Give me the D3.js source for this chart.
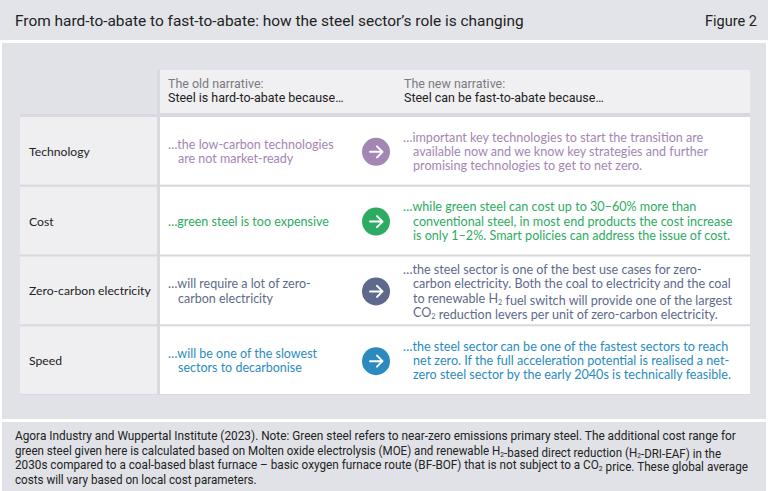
<!DOCTYPE html>
<html lang="en">
<head>
    <meta charset="UTF-8">
    <script src="https://cdn.jsdelivr.net/npm/d3@7"></script>
    <title>Steel sector narrative</title>
    <style>
        body { margin: 0; background: #fff; }
    </style>
</head>
<body>
</body>
<script>

    let title = "From hard-to-abate to fast-to-abate: how the steel sector\u2019s role is changing",
        figLabel = "Figure 2"

    let headOld = ["The old narrative:", "Steel is hard-to-abate because\u2026"],
        headNew = ["The new narrative:", "Steel can be fast-to-abate because\u2026"]

    let categories = ["Technology", "Cost", "Zero-carbon electricity", "Speed"]

    let oldText = [
        ["\u2026the low-carbon technologies", "are not market-ready"],
        ["\u2026green steel is too expensive"],
        ["\u2026will require a lot of zero-", "carbon electricity"],
        ["\u2026will be one of the slowest", "sectors to decarbonise"]
    ]

    let newText = [
        ["\u2026important key technologies to start the transition are",
            "available now and we know key strategies and further",
            "promising technologies to get to net zero."],
        ["\u2026while green steel can cost up to 30\u201360% more than",
            "conventional steel, in most end products the cost increase",
            "is only 1\u20132%. Smart policies can address the issue of cost."],
        ["\u2026the steel sector is one of the best use cases for zero-",
            "carbon electricity. Both the coal to electricity and the coal",
            "to renewable H\u2082 fuel switch will provide one of the largest",
            "CO\u2082 reduction levers per unit of zero-carbon electricity."],
        ["\u2026the steel sector can be one of the fastest sectors to reach",
            "net zero. If the full acceleration potential is realised a net-",
            "zero steel sector by the early 2040s is technically feasible."]
    ]

    let rowColors = ["#a386b4", "#2eab63", "#5e6a8b", "#2b8bc0"]

    let footnote = [
        "Agora Industry and Wuppertal Institute (2023). Note: Green steel refers to near-zero emissions primary steel. The additional cost range for",
        "green steel given here is calculated based on Molten oxide electrolysis (MOE) and renewable H\u2082-based direct reduction (H\u2082-DRI-EAF) in the",
        "2030s compared to a coal-based blast furnace \u2013 basic oxygen furnace route (BF-BOF) that is not subject to a CO\u2082 price. These global average",
        "costs will vary based on local cost parameters."
    ]

    // widths the condensed footnote lines take up in the original
    let footWidths = [722, 707, 734, 242]

    let width = 768,
        height = 491,
        tableLeft = 20,
        labelRight = 157,
        cellLeft = 160,
        tableRight = 750,
        headTop = 70,
        rowsTop = 117,
        rowsBottom = 394

    let condensed = "Roboto, 'Liberation Sans', sans-serif",
        body = "Lato, 'Open Sans', sans-serif"

    let y = d3.scaleBand()
        .domain(categories)
        .range([rowsTop, rowsBottom])
        .paddingInner(0.03)

    let svg = d3.select("body")
        .append("svg")
        .attr("width", width)
        .attr("height", height)

    // panels
    svg.append("rect").attr("x", 0).attr("y", 0).attr("width", width).attr("height", 40).attr("fill", "#e3e4e9")
    svg.append("rect").attr("x", 2).attr("y", 43).attr("width", width - 4).attr("height", 376).attr("fill", "#e1e2e7")
    svg.append("rect").attr("x", 2).attr("y", 422).attr("width", width - 4).attr("height", height - 422).attr("fill", "#e1e2e7")

    // write text with ₂ as a real subscript
    function writeLine(sel, str, size) {
        str.split(/(\u2082)/).forEach(function (part) {
            if (part === "\u2082") {
                sel.append("tspan").attr("dy", size * 0.16).attr("font-size", size * 0.58).text("2")
                sel.append("tspan").attr("dy", -size * 0.16).text("")
            } else if (part.length) {
                sel.append("tspan").text(part)
            }
        })
    }

    // squeeze one text horizontally about its anchor so it hits a target width
    function squeeze(t, target, k) {
        let x0 = +t.attr("x")
        if (k === undefined) k = target / t.node().getComputedTextLength()
        t.attr("transform", "translate(" + x0 + ",0) scale(" + k + ",1) translate(" + (-x0) + ",0)")
        return k
    }

    // title
    let tt = svg.append("text")
        .attr("x", 15).attr("y", 26)
        .attr("font-family", condensed).attr("font-size", 14.5).attr("fill", "#222")
        .text(title)
    squeeze(tt, 509)

    let ft = svg.append("text")
        .attr("x", 757).attr("y", 26).attr("text-anchor", "end")
        .attr("font-family", condensed).attr("font-size", 14.5).attr("fill", "#222")
        .text(figLabel)
    squeeze(ft, 52)

    // table backing
    svg.append("rect")
        .attr("x", labelRight).attr("y", headTop)
        .attr("width", tableRight - labelRight).attr("height", rowsTop - headTop)
        .attr("fill", "#d8d9df")
    svg.append("rect")
        .attr("x", tableLeft).attr("y", rowsTop - 3)
        .attr("width", tableRight - tableLeft).attr("height", rowsBottom - rowsTop + 4)
        .attr("fill", "#d8d9df")

    // header row
    svg.append("rect")
        .attr("x", cellLeft).attr("y", headTop)
        .attr("width", tableRight - cellLeft).attr("height", 43)
        .attr("fill", "#f0f0f3")

    let hg = svg.append("g")
    ;[[headOld, 168], [headNew, 404]].forEach(function (h) {
        h[0].forEach(function (line, i) {
            hg.append("text")
                .attr("x", h[1]).attr("y", 88 + i * 14.5)
                .attr("font-family", condensed).attr("font-size", 12.5)
                .attr("fill", i === 0 ? "#7a7a80" : "#222")
                .text(line)
        })
    })
    // one common squeeze for the header, set by the widest line
    let refHead = hg.selectAll("text").filter((d, i) => i === 3)
    let kHead = 200 / refHead.node().getComputedTextLength()
    hg.selectAll("text").each(function () {
        squeeze(d3.select(this), 0, kHead)
    })

    // rows
    let rows = svg.selectAll("g.row")
        .data(categories)
        .enter()
        .append("g")
        .attr("class", "row")
        .attr("transform", d => "translate(0," + y(d) + ")")

    rows.append("rect")
        .attr("x", tableLeft).attr("width", labelRight - tableLeft)
        .attr("height", y.bandwidth())
        .attr("fill", "#efeff2")

    rows.append("rect")
        .attr("x", cellLeft).attr("width", tableRight - cellLeft)
        .attr("height", y.bandwidth())
        .attr("fill", "#ffffff")

    rows.append("text")
        .attr("x", 29).attr("y", y.bandwidth() / 2 + 5)
        .attr("font-family", body).attr("font-size", 12.2)
        .attr("fill", "#222")
        .text(d => d)

    let lineH = 14.3

    function block(g, lines, x, size, color) {
        let top = y.bandwidth() / 2 - (lines.length - 1) * lineH / 2 + 5
        lines.forEach(function (line, i) {
            let t = g.append("text")
                .attr("x", i === 0 ? x : x + 10)
                .attr("y", top + i * lineH)
                .attr("font-family", body).attr("font-size", size)
                .attr("fill", color)
            writeLine(t, line, size)
        })
    }

    rows.each(function (d, i) {
        let g = d3.select(this)
        block(g, oldText[i], 168, 12.5, rowColors[i])
        block(g, newText[i], 403, 12.6, rowColors[i])

        let cx = 376, cy = y.bandwidth() / 2 + 1
        g.append("circle")
            .attr("cx", cx).attr("cy", cy).attr("r", 14)
            .attr("fill", rowColors[i])
        g.append("path")
            .attr("d", "M" + (cx - 6) + "," + cy + "H" + (cx + 6) + "M" + (cx + 1) + "," + (cy - 5.5) + "L" + (cx + 6.5) + "," + cy + "L" + (cx + 1) + "," + (cy + 5.5))
            .attr("fill", "none")
            .attr("stroke", "#fff")
            .attr("stroke-width", 2)
            .attr("stroke-linecap", "round")
            .attr("stroke-linejoin", "round")
    })

    // footnote
    footnote.forEach(function (line, i) {
        let t = svg.append("text")
            .attr("x", 15).attr("y", 440 + i * 14.6)
            .attr("font-family", condensed).attr("font-size", 12)
            .attr("fill", "#222")
        writeLine(t, line, 12)
        squeeze(t, footWidths[i])
    })

</script>
</html>
